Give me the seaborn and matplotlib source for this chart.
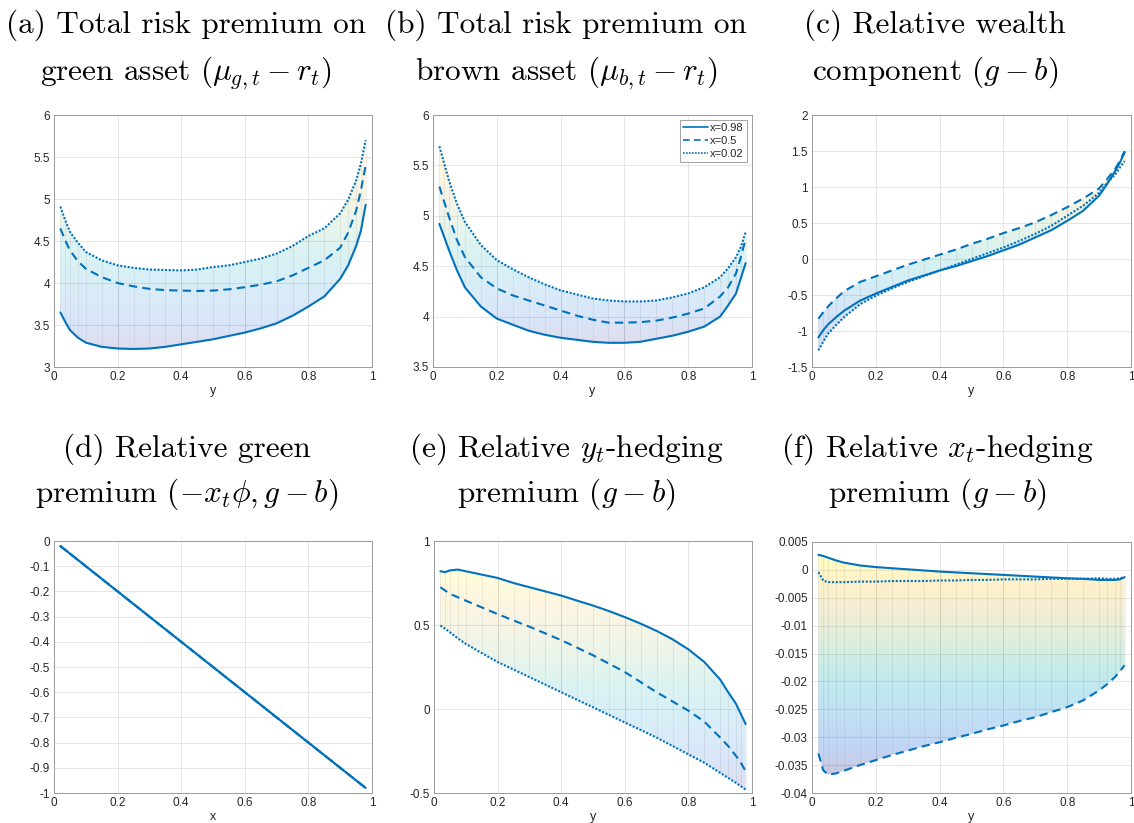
import numpy as np
import pandas as pd
import matplotlib
matplotlib.use("Agg")
import matplotlib.pyplot as plt
import matplotlib.ticker as mticker
from matplotlib.colors import LinearSegmentedColormap
import seaborn as sns

# ---------------- data ----------------
y_grid = [0.02, 0.035, 0.05, 0.075, 0.10, 0.15, 0.20, 0.25, 0.30, 0.35, 0.40, 0.45, 0.50,
          0.55, 0.60, 0.65, 0.70, 0.75, 0.80, 0.85, 0.90, 0.925, 0.95, 0.965, 0.98]
series_names = ["x=0.98", "x=0.5", "x=0.02"]

a_x098 = [3.65, 3.54, 3.44, 3.35, 3.29, 3.24, 3.22, 3.215, 3.22, 3.24, 3.27, 3.30, 3.33,
          3.37, 3.41, 3.46, 3.52, 3.61, 3.72, 3.84, 4.05, 4.21, 4.44, 4.62, 4.93]
a_x05 = [4.65, 4.51, 4.39, 4.26, 4.17, 4.07, 4.00, 3.96, 3.93, 3.915, 3.91, 3.905, 3.91,
         3.925, 3.95, 3.98, 4.02, 4.09, 4.18, 4.27, 4.42, 4.60, 4.86, 5.10, 5.40]
a_x002 = [4.91, 4.75, 4.61, 4.48, 4.37, 4.27, 4.21, 4.18, 4.16, 4.155, 4.15, 4.16, 4.19,
          4.21, 4.25, 4.29, 4.35, 4.44, 4.56, 4.65, 4.83, 4.99, 5.22, 5.42, 5.70]

b_x098 = [4.92, 4.79, 4.66, 4.46, 4.29, 4.10, 3.98, 3.92, 3.86, 3.82, 3.79, 3.77, 3.75,
          3.74, 3.74, 3.75, 3.78, 3.81, 3.85, 3.90, 4.00, 4.11, 4.23, 4.38, 4.53]
b_x05 = [5.29, 5.14, 4.99, 4.76, 4.59, 4.39, 4.28, 4.21, 4.16, 4.11, 4.06, 4.01, 3.97,
         3.94, 3.94, 3.945, 3.96, 3.99, 4.03, 4.08, 4.20, 4.29, 4.43, 4.59, 4.77]
b_x002 = [5.69, 5.52, 5.35, 5.12, 4.94, 4.71, 4.56, 4.47, 4.39, 4.32, 4.26, 4.22, 4.18,
          4.16, 4.15, 4.15, 4.16, 4.19, 4.23, 4.29, 4.39, 4.48, 4.59, 4.69, 4.84]

c_x098 = [-1.09, -0.99, -0.91, -0.81, -0.72, -0.58, -0.48, -0.39, -0.30, -0.23, -0.16, -0.10, -0.03,
          0.04, 0.12, 0.20, 0.30, 0.40, 0.53, 0.67, 0.88, 1.04, 1.22, 1.34, 1.48]
c_x05 = [-0.83, -0.74, -0.66, -0.55, -0.45, -0.32, -0.24, -0.16, -0.08, -0.01, 0.06, 0.13, 0.21,
         0.28, 0.36, 0.43, 0.51, 0.61, 0.72, 0.84, 0.98, 1.11, 1.25, 1.36, 1.50]
c_x002 = [-1.27, -1.15, -1.04, -0.92, -0.81, -0.63, -0.51, -0.41, -0.32, -0.24, -0.16, -0.08, 0.00,
          0.08, 0.16, 0.25, 0.35, 0.46, 0.60, 0.74, 0.92, 1.06, 1.17, 1.27, 1.36]

d_green = [-0.02, -0.035, -0.05, -0.075, -0.10, -0.15, -0.20, -0.25, -0.30, -0.35, -0.40, -0.45, -0.50,
           -0.55, -0.60, -0.65, -0.70, -0.75, -0.80, -0.85, -0.90, -0.925, -0.95, -0.965, -0.98]

e_x098 = [0.82, 0.815, 0.825, 0.83, 0.82, 0.80, 0.78, 0.75, 0.725, 0.70, 0.675, 0.645, 0.616,
          0.583, 0.547, 0.508, 0.465, 0.415, 0.355, 0.28, 0.175, 0.10, 0.03, -0.03, -0.09]
e_x05 = [0.725, 0.705, 0.686, 0.665, 0.645, 0.605, 0.565, 0.527, 0.49, 0.45, 0.41, 0.365, 0.32,
         0.27, 0.22, 0.16, 0.10, 0.045, -0.01, -0.075, -0.17, -0.22, -0.28, -0.32, -0.37]
e_x002 = [0.497, 0.478, 0.457, 0.42, 0.388, 0.333, 0.28, 0.235, 0.19, 0.145, 0.10, 0.055, 0.01,
          -0.035, -0.08, -0.125, -0.17, -0.22, -0.27, -0.32, -0.38, -0.41, -0.44, -0.46, -0.48]

f_x098 = [0.0027, 0.0025, 0.0022, 0.0017, 0.0013, 0.0008, 0.0005, 0.0003, 0.0001, -0.0001, -0.0003,
          -0.00045, -0.0006, -0.00075, -0.0009, -0.00105, -0.0012, -0.00135, -0.0015, -0.0016,
          -0.0018, -0.0018, -0.0018, -0.0017, -0.0013]
f_x05 = [-0.0329, -0.0359, -0.0367, -0.0365, -0.036, -0.035, -0.0341, -0.0332, -0.0324, -0.0316,
         -0.0309, -0.0301, -0.0294, -0.0286, -0.0279, -0.0271, -0.0264, -0.0255, -0.0246, -0.0234,
         -0.0216, -0.0205, -0.0192, -0.0182, -0.0171]
f_x002 = [-0.0004, -0.0019, -0.0022, -0.0022, -0.0022, -0.0021, -0.0021, -0.0020, -0.0020, -0.0020,
          -0.0019, -0.0019, -0.0018, -0.0018, -0.0017, -0.0017, -0.0017, -0.0016, -0.0016, -0.0016,
          -0.0015, -0.0016, -0.0016, -0.0015, -0.0013]

titles = [
    ("(a) Total risk premium on", r"green asset ($\mu_{g,t} - r_t$)"),
    ("(b) Total risk premium on", r"brown asset ($\mu_{b,t} - r_t$)"),
    ("(c) Relative wealth", r"component ($g - b$)"),
    ("(d) Relative green", r"premium ($-x_t\phi, g - b$)"),
    (r"(e) Relative $y_t$-hedging", r"premium ($g - b$)"),
    (r"(f) Relative $x_t$-hedging", r"premium ($g - b$)"),
]
xlabels = ["y", "y", "y", "x", "y", "y"]
ylims = [(3, 6), (3.5, 6), (-1.5, 2), (-1, 0), (-0.5, 1), (-0.04, 0.005)]
ysteps = [0.5, 0.5, 0.5, 0.1, 0.5, 0.005]
panel_series = [
    (a_x098, a_x05, a_x002),
    (b_x098, b_x05, b_x002),
    (c_x098, c_x05, c_x002),
    (d_green, d_green, d_green),
    (e_x098, e_x05, e_x002),
    (f_x098, f_x05, f_x002),
]
has_surface = [True, True, True, False, True, True]
surface_alpha = [0.16, 0.16, 0.18, 0.0, 0.16, 0.26]

# ---------------- style ----------------
sns.set_theme(style="white")
plt.rcParams["font.family"] = ["Liberation Sans", "DejaVu Sans"]
plt.rcParams["mathtext.fontset"] = "cm"
plt.rcParams["axes.unicode_minus"] = False

LINE_C = "#0072BD"
parula = LinearSegmentedColormap.from_list(
    "parula", ["#352a87", "#0f5cdd", "#1481d6", "#06a4ca", "#2eb7a4",
               "#87bf77", "#d1bb59", "#fec832", "#f9fb0e"])

fig = plt.figure(figsize=(11.34, 8.23), dpi=100)
W, H = 1134, 823
# pixel boxes: (left, right, top, bottom)
boxes = [(54, 372, 115, 367), (433, 752, 115, 367), (812, 1131, 115, 367),
         (54, 372, 541, 793), (434, 752, 541, 793), (812, 1131, 542, 793)]
title_cx = [186, 566, 935, 187, 566, 937]
title_base = [(33, 80), (33, 80), (33, 80), (457, 502), (457, 502), (457, 502)]

fmt = mticker.FuncFormatter(lambda v, p: f"{round(v, 6) + 0.0:g}")

for i in range(6):
    l, r, t, b = boxes[i]
    ax = fig.add_axes([l / W, (H - b) / H, (r - l) / W, (b - t) / H])
    s98, s05, s002 = panel_series[i]
    df = pd.DataFrame({
        "y": y_grid * 3,
        "v": list(s98) + list(s05) + list(s002),
        "series": [series_names[0]] * len(y_grid) + [series_names[1]] * len(y_grid)
                  + [series_names[2]] * len(y_grid),
    })
    if has_surface[i]:
        arr = np.array([s98, s05, s002], dtype=float)
        lo, hi = arr.min(axis=0), arr.max(axis=0)
        poly = ax.fill_between(y_grid, lo, hi, facecolor="none", edgecolor="none")
        zmin, zmax = lo.min(), hi.max()
        grad = np.linspace(0, 1, 256).reshape(-1, 1)
        im = ax.imshow(grad, cmap=parula, origin="lower", aspect="auto",
                       extent=[y_grid[0], y_grid[-1], zmin, zmax], alpha=surface_alpha[i],
                       interpolation="bilinear", zorder=1)
        im.set_clip_path(poly.get_paths()[0], transform=ax.transData)
        ax.vlines(y_grid, lo, hi, colors="#808080", alpha=0.16, linewidth=0.6, zorder=1.5)
    sns.lineplot(data=df, x="y", y="v", style="series", style_order=series_names,
                 dashes={"x=0.98": "", "x=0.5": (4, 2.5), "x=0.02": (1, 0.8)},
                 color=LINE_C, linewidth=1.5, sort=False, ax=ax,
                 legend=(i == 1), zorder=3)
    ax.set_xlim(0, 1)
    ax.set_ylim(*ylims[i])
    ax.set_xticks(np.round(np.arange(0, 1.0001, 0.2), 2))
    lo_y, hi_y = ylims[i]
    n = int(round((hi_y - lo_y) / ysteps[i]))
    ax.set_yticks(np.round(np.linspace(lo_y, hi_y, n + 1), 6))
    ax.xaxis.set_major_formatter(fmt)
    ax.yaxis.set_major_formatter(fmt)
    ax.grid(True, color="#e6e6e6", linewidth=0.7)
    ax.set_axisbelow(True)
    for sp in ax.spines.values():
        sp.set_color("#9a9a9a")
        sp.set_linewidth(0.7)
        sp.set_visible(True)
    ax.tick_params(axis="both", direction="in", length=3, width=0.6, color="#9a9a9a",
                   labelsize=8.5, labelcolor="#262626", pad=3)
    ax.set_xlabel(xlabels[i], fontsize=9, color="#262626", labelpad=1)
    ax.set_ylabel("")
    if i == 1:
        leg = ax.legend(loc="upper right", fontsize=8, frameon=True, fancybox=False,
                        borderpad=0.3, handlelength=2.2, handletextpad=0.2,
                        labelspacing=0.25, borderaxespad=0.45, title=None)
        leg.get_frame().set_edgecolor("#8c8c8c")
        leg.get_frame().set_linewidth(0.7)
        for h in leg.get_lines():
            h.set_linewidth(1.2)
    # titles
    l1, l2 = titles[i]
    b1, b2 = title_base[i]
    fig.text(title_cx[i] / W, 1 - b1 / H, l1, ha="center", va="baseline",
             fontsize=22.5, family="cmr10", color="black")
    fig.text(title_cx[i] / W, 1 - b2 / H, l2, ha="center", va="baseline",
             fontsize=22.5, family="cmr10", color="black")

fig.savefig("out.png", dpi=100)
